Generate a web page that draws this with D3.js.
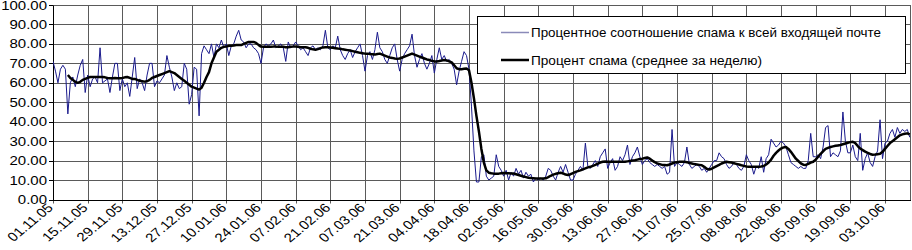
<!DOCTYPE html>
<html><head><meta charset="utf-8">
<script src="https://cdn.jsdelivr.net/npm/d3@7"></script>
<style>html,body{margin:0;padding:0;background:#fff;}svg{display:block;}text{font-family:Arial,"Liberation Sans",sans-serif;fill:#000;}</style>
</head><body><svg id="c" width="912" height="250"></svg>
<script>
// ---- data ----
const startDate = "01.11.05";
const tickLabels = ["01.11.05","15.11.05","29.11.05","13.12.05","27.12.05","10.01.06","24.01.06","07.02.06","21.02.06","07.03.06","21.03.06","04.04.06","18.04.06","02.05.06","16.05.06","30.05.06","13.06.06","27.06.06","11.07.06","25.07.06","08.08.06","22.08.06","05.09.06","19.09.06","03.10.06"];
const tickStep = 14; // days between labelled ticks
const yTicks = [0,10,20,30,40,50,60,70,80,90,100];
const seriesNames = ["Процентное соотношение спама к всей входящей почте","Процент спама (среднее за неделю)"];
// daily spam share, %, from 01.11.05
const dailyValues = [
71,66,60,67,69,67,44,60,63,58,64,69,72,55,
64,58,62,63,60,78,60,61,62,55,63,70,70,56,
62,58,60,53,63,73,57,62,60,56,64,70,70,58,
61,60,62,64,74,68,63,56,60,57,58,70,67,49,
54,68,67,43,75,79,77,75,80,73,80,78,82,78,
80,74,79,80,84,87,82,81,78,80,80,78,77,75,
70,78,80,79,80,82,78,79,80,78,71,81,78,79,
81,79,77,78,76,74,78,79,77,78,77,79,87,78,
77,79,78,84,77,74,72,75,77,73,76,78,80,74,
66,74,76,72,77,86,78,76,72,70,74,78,80,72,
66,72,75,77,79,85,74,68,72,75,70,67,70,74,
65,72,78,72,74,71,72,70,67,59,66,71,76,74,
67,48,25,9,9,22,23,12,10,11,12,23,17,15,
12,15,10,14,12,16,13,15,11,14,12,13,9,11,
10,11,10,12,16,15,12,10,14,17,14,18,14,10,
10,13,15,17,15,29,17,16,18,20,17,22,24,26,
16,19,21,15,17,22,20,23,28,18,22,24,27,22,
18,20,21,19,18,17,18,17,16,17,13,14,36,17,
19,18,17,19,27,18,16,17,18,17,15,16,14,16,
18,20,20,24,22,21,18,16,17,19,18,16,15,17,
23,20,18,13,17,16,22,14,21,23,31,29,27,28,
30,29,27,23,19,18,17,16,17,16,16,20,34,22,
22,23,21,27,37,38,22,24,23,22,25,45,30,24,
24,28,22,20,34,15,21,24,19,17,22,25,41,21,
29,30,34,36,32,37,34,36,35,36,32];
// weekly average, %, starting at day index 6
const avgStartDay = 6;
const weeklyAvg = [
64,62.5,61.5,60.5,60,60.5,61.5,62,
62.5,63,63,63,63,63,63,62.8,62.5,62.3,62.3,62.5,62.3,62.3,
62.5,62.8,63,62.5,62,62,61.5,61,60.8,60.6,60.8,61.5,62.5,63,
63.5,64,64.5,65,65.5,66,65.5,65,64,63,62,61,60,59,
58,57.5,57,56.5,57.5,60,63,65.5,70,73,76,77,78,78.5,
78.6,79,79,79.2,79.4,79.4,79.4,80,80.5,81,81,81,80.5,79.5,
78.6,78.5,78.5,78.5,78.5,78.6,78.6,78.5,78.5,78.5,78.3,78.3,78.5,78.6,
78.6,78.5,78.3,78.3,78.3,78,77.5,77.2,77,77.3,77.8,78.2,78.3,78.3,
78.2,78,77.8,77.6,77.5,77.2,77,76.8,76.6,76.3,76,75.7,75.4,75.2,
75,75,74.8,74.7,74.5,74.8,75,74.5,74,73.5,73,72.8,72.5,72.3,
72.5,73,73.5,74,74.5,75,74.5,74,73.5,73,72.5,72,71.7,71.3,
71,71,71.2,71.5,71.7,71.5,71,70.5,69,67.5,67,67,67.2,67.4,
66.5,60,52,43,35,26,19,15,13.8,13.5,13.3,13.2,13.3,13.5,
13.6,13.5,13.5,13.4,13.4,13,12.6,12.2,11.8,11.5,11.2,11,10.9,10.8,
10.8,10.8,10.8,10.9,11.5,12.2,12.8,13.2,13.5,13.8,13.4,12.8,12.6,13,
13.6,14.2,14.6,15,15.5,16,16.5,16.8,17.3,17.8,18.4,19,19.4,19.5,
19.4,19.4,19.4,19.4,19.4,19.4,19.4,19.4,19.6,19.8,20,20.2,20.5,20.8,
21,21.3,21.6,21,20,19.2,18.6,18.2,17.8,17.7,17.6,18,18.5,19,
19.2,19.4,19.4,19.4,19.2,18.8,18.5,18.2,18,17.8,17.6,16.8,15.8,15.4,
15.8,16.5,17.2,17.8,18.5,19,19.4,19.2,19,18.6,18.3,18,17.6,17.3,
17,16.8,16.8,16.8,16.8,16.9,17,17.2,18,19,20.5,22.5,24,25.2,
26.2,26.8,27,26,24.5,22.8,21,19.8,18.6,17.9,17.8,18.3,19,19.4,
20.5,22,23.5,24.8,26,26.5,27,27.3,27.6,27.8,28,28.4,28.8,29.2,
29.5,29.7,29,27.5,26.2,25.4,24.6,24,23.4,23,23.1,23.3,23.5,24.5,
26,27.5,29,30,31,32,33,33.5,33.8,34,33.5];

// ---- chart ----
const svg = d3.select("#c");
const L = 53, R = 911, T = 5, B = 199.5;
const SX = 1.2, FS = 12.5;
const x = d3.scaleLinear().domain([0, 346.5]).range([L, R]);
const y = d3.scaleLinear().domain([0, 100]).range([B, T]);
const cr = v => Math.round(v) + 0.5;

svg.append("rect").attr("width",912).attr("height",250).attr("fill","#fff");

// grid
const g = svg.append("g");
g.selectAll("line.h").data(yTicks).join("line")
  .attr("x1", L).attr("x2", R).attr("y1", d => cr(y(d))).attr("y2", d => cr(y(d)))
  .attr("stroke", "#5a5a5a").attr("stroke-width", 1);
const tickIdx = tickLabels.map((t,i) => i * tickStep);
g.selectAll("line.v").data(tickIdx).join("line")
  .attr("x1", d => cr(x(d))).attr("x2", d => cr(x(d))).attr("y1", T).attr("y2", B + 4)
  .attr("stroke", "#5a5a5a").attr("stroke-width", 1);
g.append("line").attr("x1", R - 0.5).attr("x2", R - 0.5).attr("y1", cr(y(100))).attr("y2", cr(y(0)))
  .attr("stroke", "#5a5a5a");
// axes
svg.append("line").attr("x1", cr(L)).attr("x2", cr(L)).attr("y1", cr(y(100))).attr("y2", cr(y(0)))
  .attr("stroke", "#000");
svg.append("line").attr("x1", L).attr("x2", R).attr("y1", cr(y(0))).attr("y2", cr(y(0)))
  .attr("stroke", "#000");
svg.selectAll("line.yt").data(yTicks).join("line")
  .attr("x1", L - 4).attr("x2", L).attr("y1", d => cr(y(d))).attr("y2", d => cr(y(d)))
  .attr("stroke", "#000");

// y labels
svg.selectAll("text.yl").data(yTicks).join("text")
  .attr("transform", d => `translate(${L - 6},${y(d) + 4.5}) scale(${SX},1)`)
  .attr("text-anchor", "end").attr("font-size", FS)
  .text(d => d3.format(".2f")(d));

// x labels (rotated)
svg.selectAll("text.xl").data(tickLabels).join("text")
  .attr("transform", (d,i) => `translate(${x(i * tickStep) + 1},${B + 9}) scale(${SX},1) rotate(-45)`)
  .attr("text-anchor", "end").attr("font-size", FS)
  .text(d => d);

// series
svg.append("clipPath").attr("id","pc").append("rect")
  .attr("x", L).attr("y", 0).attr("width", R - L).attr("height", B + 2);
const lineD = d3.line().x(d => x(d[0])).y(d => y(d[1]));
svg.append("path")
  .attr("d", lineD(dailyValues.map((v,i) => [i, v])))
  .attr("fill", "none").attr("stroke", "#1a1a8c").attr("stroke-width", 1)
  .attr("clip-path","url(#pc)");
svg.append("path")
  .attr("d", lineD(weeklyAvg.map((v,i) => [i + avgStartDay, v])))
  .attr("fill", "none").attr("stroke", "#000").attr("stroke-width", 2.5)
  .attr("stroke-linejoin","round")
  .attr("clip-path","url(#pc)");

// legend
const lg = svg.append("g");
lg.append("rect").attr("x", 477.5).attr("y", 16.5).attr("width", 428).attr("height", 57)
  .attr("fill", "#fff").attr("stroke", "#000").attr("stroke-width", 1);
const legendColors = ["#8a8ab8", "#000"];
const legendWidths = [1.5, 2.5];
const legendTextLen = [350, 231];
seriesNames.forEach((name, i) => {
  const ly = 32.5 + i * 27.5;
  lg.append("line").attr("x1", 501).attr("x2", 529).attr("y1", ly).attr("y2", ly)
    .attr("stroke", legendColors[i]).attr("stroke-width", legendWidths[i]);
  lg.append("text")
    .attr("x", 531).attr("y", ly + 4.5)
    .attr("textLength", legendTextLen[i]).attr("lengthAdjust", "spacingAndGlyphs")
    .attr("font-size", FS).text(name);
});
</script></body></html>
